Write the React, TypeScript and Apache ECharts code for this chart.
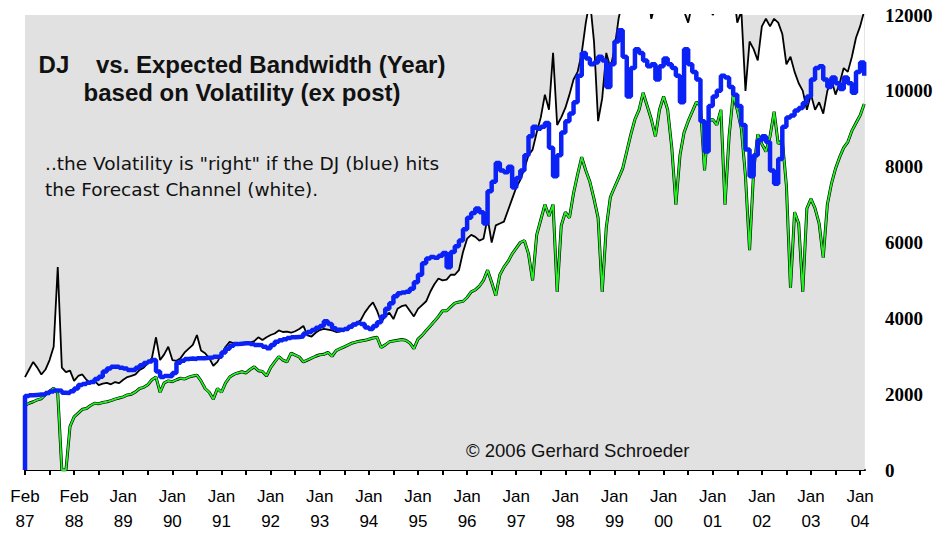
import React, { useEffect, useRef } from 'react';
import * as echarts from 'echarts';

// Month index 0 = Feb 87, one value per month (upper band, lower band, DJ)
const xLabels = ['Feb\n87', 'Feb\n88', 'Jan\n89', 'Jan\n90', 'Jan\n91', 'Jan\n92', 'Jan\n93', 'Jan\n94', 'Jan\n95', 'Jan\n96', 'Jan\n97', 'Jan\n98', 'Jan\n99', 'Jan\n00', 'Jan\n01', 'Jan\n02', 'Jan\n03', 'Jan\n04'];
const labelMonths = [0, 12, 24, 36, 48, 60, 72, 84, 96, 108, 120, 132, 144, 156, 168, 180, 192, 204];
const tickMonths = [0, 6, 12, 18, 24, 30, 36, 42, 48, 54, 60, 66, 72, 78, 84, 90, 96, 102, 108, 114, 120, 126, 132, 138, 144, 150, 156, 162, 168, 174, 180, 186, 192, 198, 204];

const upperBand = [
  2450, 2650, 2850, 2700, 2520, 2650, 2900, 3250, 5350, 2700, 2580, 2620,
  2350, 2480, 2520, 2380, 2300, 2350, 2240, 2280, 2300, 2260, 2320, 2290,
  2380, 2450, 2480, 2520, 2640, 2700, 2820, 2950, 3500, 2900, 3050, 3250,
  2900, 2880, 2950, 3100, 3200, 3300, 3560, 3150, 3080, 2950, 2750, 2850,
  3050, 3250, 3380, 3340, 3300, 3330, 3320, 3360, 3400, 3500, 3430, 3500,
  3560, 3600, 3680, 3640, 3650, 3620, 3660, 3720, 3800, 3550, 3520, 3620,
  3690, 3720, 3700, 3680, 3640, 3650, 3720, 3760, 3850, 3880, 3950, 4150,
  4300, 4420, 4200, 3900, 4050, 4150, 3980, 4250, 4320, 4350, 4200, 4050,
  4250, 4350, 4450, 4700, 4900, 5050, 5000, 5020, 5150, 5150, 5270, 5750,
  6100, 6200, 6150, 6050, 6100, 6650, 6000, 6450, 6500, 6550, 6850, 7150,
  7450, 7650, 7950, 8300, 8450, 8900, 9300, 9900, 9500, 11000, 9100, 9300,
  9550, 9900, 10300, 10500, 11000, 11800, 12400, 11300, 9200, 9800, 11000, 10600,
  11100, 11900, 12400, 12900, 13100, 12600, 12900, 13200, 12700, 11900, 12300, 12800,
  13000, 12600, 13200, 12700, 12400, 12100, 11800, 12300, 12800, 12500, 12900, 12400,
  12000, 12200, 12600, 13000, 12400, 12700, 11800, 12100, 10000, 11300, 11100, 10800,
  11700, 11900, 11700, 11900, 11800, 11500, 10700, 10900, 10500, 10200, 10000, 9500,
  9900, 9500, 9700, 9400, 10000, 10300, 9900, 10200, 10600, 10500, 10900, 11400,
  11700, 12100,
];

const lowerBand = [
  1700, 1760, 1800, 1850, 1880, 1990, 2080, 2160, 2020, 0, 0, 1150,
  1400, 1500, 1600, 1620, 1700, 1760, 1750, 1780, 1800, 1830, 1870, 1900,
  1930, 1980, 2000, 2060, 2150, 2180, 2250, 2380, 2450, 2050, 2300, 2350,
  2330, 2380, 2420, 2400, 2450, 2480, 2500, 2350, 2150, 2050, 1870, 2150,
  2050, 2300, 2450, 2520, 2560, 2590, 2560, 2650, 2720, 2620, 2600, 2480,
  2700, 2850, 2990, 2900, 2850, 3080, 3030, 2980, 2850, 2900, 2950, 3000,
  3040, 3050, 3100, 3000, 3150, 3200, 3250, 3300, 3350, 3380, 3400, 3420,
  3450, 3480, 3500, 3230, 3300, 3380, 3400, 3420, 3440, 3420, 3350, 3200,
  3450, 3550, 3680, 3800, 3920, 4050, 4200, 4200, 4300, 4400, 4430, 4450,
  4550, 4700, 4750, 4850, 5000, 5270, 4950, 4600, 5150, 5350, 5500, 5700,
  5850, 6000, 6050, 5700, 5000, 6200, 6600, 7000, 6700, 7000, 4700, 6450,
  6800, 6650, 7300, 7800, 8250, 7900, 7600, 7150, 6650, 4700, 6400, 7200,
  7450, 7700, 7950, 8400, 8850, 9250, 9500, 9950, 9600, 9250, 8800, 9500,
  9850, 9500, 8500, 7000, 8300, 8900, 9200, 9450, 9700, 9600, 7900, 9200,
  9250, 9100, 9500, 7000, 8800, 9900, 9500, 9000, 7750, 5800, 7900, 8850,
  8600, 8400, 8800, 9450, 8600, 8700, 7500, 4800, 6800, 6500, 4700, 6900,
  7150, 6900, 6500, 5600, 7000, 7550, 7950, 8250, 8500, 8650, 8950, 9150,
  9350, 9650,
];

const djStart = 0;
const djValues = [
  1950, 1970, 1980, 1990, 1990, 2030, 2070, 2100, 2090, 2040, 2030, 2080,
  2150, 2240, 2270, 2300, 2320, 2400, 2460, 2600, 2680, 2720, 2720, 2700,
  2680, 2640, 2640, 2700, 2760, 2820, 2860, 2900, 2600, 2450, 2480, 2470,
  2560, 2830, 2880, 2930, 2940, 2930, 2950, 2950, 2960, 2970, 2990, 2990,
  3100, 3200, 3280, 3320, 3330, 3340, 3340, 3320, 3300, 3290, 3250, 3210,
  3300, 3380, 3420, 3450, 3480, 3500, 3510, 3520, 3600, 3640, 3690, 3750,
  3800, 3920, 3850, 3740, 3700, 3690, 3720, 3780, 3840, 3880, 3850, 3760,
  3720, 3800, 3900, 4050, 4250, 4400, 4580, 4660, 4680, 4700, 4780, 4950,
  5150, 5450, 5580, 5620, 5600, 5650, 5720, 5350, 5750, 5900, 6050, 6350,
  6650, 6780, 6900, 6800, 6500, 7350, 7600, 8100, 7900, 7850, 8000, 7450,
  7700, 7900, 8300, 8800, 9050, 9000, 9050, 9150, 8500, 7750, 8300, 8900,
  9200, 9400, 9700, 10400, 11000, 10850, 10700, 10750, 10900, 10800, 10100, 10700,
  11300, 11600, 10900, 9850, 10600, 11100, 11000, 10800, 10650, 10700, 10300, 10650,
  10850, 10700, 10600, 10400, 9700, 11100, 10700, 10500, 10300, 9200, 8400, 9600,
  9850, 10000, 10400, 10350, 10100, 9900, 9600, 9100, 8450, 7750, 8300, 8700,
  8800, 8650, 7900, 7550, 8200, 9050, 9300, 9350, 9480, 9550, 9680, 9850,
  10300, 10600, 10650, 10300, 10100, 10350, 10200, 10050, 10350, 10200, 9950, 10500,
  10750, 10400,
];

const titleLine1 = 'DJ\u00a0\u00a0\u00a0 vs. Expected Bandwidth (Year)';
const titleLine2 = 'based on Volatility (ex post)';
const noteLine1 = '..the Volatility is "right" if the DJ (blue) hits';
const noteLine2 = 'the Forecast Channel (white).';
const copyright = '\u00a9 2006 Gerhard Schroeder';

const BG = '#e1e1e1';

export default function App() {
  const ref = useRef<HTMLDivElement>(null);

  useEffect(() => {
    if (!ref.current) return;
    const chart = echarts.init(ref.current, undefined, { renderer: 'svg' });
    const upperPairs = upperBand.map((v, i) => [i, v]);
    const lowerPairs = lowerBand.map((v, i) => [i, v]);
    const djPairs = [[0, djStart], ...djValues.map((v, i) => [i, v])];

    const option: any = {
      animation: false,
      backgroundColor: '#ffffff',
      grid: { left: 25, right: 80, top: 15, bottom: 66, show: true, backgroundColor: BG, borderWidth: 0 },
      xAxis: {
        type: 'value',
        min: 0,
        max: 205.2,
        axisLine: { show: true, onZero: false, lineStyle: { color: '#000', width: 2 } },
        axisTick: { show: true, customValues: tickMonths, length: 5, lineStyle: { color: '#000', width: 2 } },
        axisLabel: {
          customValues: labelMonths,
          formatter: (v: number) => xLabels[Math.round(v / 12)] ?? '',
          color: '#000',
          fontFamily: 'Liberation Sans',
          fontSize: 17,
          lineHeight: 25,
          margin: 14,
        },
        splitLine: { show: false },
      },
      yAxis: {
        type: 'value',
        position: 'right',
        min: 0,
        max: 12000,
        interval: 2000,
        axisLine: { show: false },
        axisTick: { show: false },
        splitLine: { show: false },
        axisLabel: {
          color: '#000',
          fontFamily: 'Liberation Serif',
          fontWeight: 'bold',
          fontSize: 19,
          margin: 20,
          formatter: (v: number) => String(v),
        },
      },
      series: [
        {
          type: 'line', data: upperPairs, symbol: 'none', silent: true, z: 1,
          lineStyle: { width: 0, opacity: 0 }, areaStyle: { color: '#ffffff', opacity: 1 },
        },
        {
          type: 'line', data: lowerPairs, symbol: 'none', silent: true, z: 1,
          lineStyle: { width: 0, opacity: 0 }, areaStyle: { color: BG, opacity: 1 },
        },
        {
          type: 'line', data: upperPairs, symbol: 'none', silent: true, z: 2,
          lineStyle: { color: '#000', width: 1.8 },
        },
        {
          type: 'line', data: lowerPairs, symbol: 'none', silent: true, z: 2,
          lineStyle: { color: '#000', width: 3 },
        },
        {
          type: 'line', data: lowerPairs, symbol: 'none', silent: true, z: 2,
          lineStyle: { color: '#22f022', width: 1.8 },
        },
        {
          type: 'line', data: djPairs, symbol: 'none', silent: true, step: 'end', clip: false, z: 3,
          lineStyle: { color: '#0a22f5', width: 4.5 },
        },
      ],
      graphic: [
        { type: 'text', z: 100, x: 242, y: 64, style: { text: titleLine1, fill: '#111', fontSize: 24, fontWeight: 'bold', fontFamily: 'Liberation Sans', textAlign: 'center', textVerticalAlign: 'middle' } },
        { type: 'text', z: 100, x: 242, y: 92, style: { text: titleLine2, fill: '#111', fontSize: 24, fontWeight: 'bold', fontFamily: 'Liberation Sans', textAlign: 'center', textVerticalAlign: 'middle' } },
        { type: 'text', z: 100, x: 45, y: 163, style: { text: noteLine1, fill: '#111', fontSize: 18.5, fontFamily: 'DejaVu Sans', textAlign: 'left', textVerticalAlign: 'middle' } },
        { type: 'text', z: 100, x: 45, y: 189, style: { text: noteLine2, fill: '#111', fontSize: 18.5, fontFamily: 'DejaVu Sans', textAlign: 'left', textVerticalAlign: 'middle' } },
        { type: 'text', z: 100, x: 466, y: 450, style: { text: copyright, fill: '#111', fontSize: 18.5, fontFamily: 'Liberation Sans', textAlign: 'left', textVerticalAlign: 'middle' } },
      ],
    };
    chart.setOption(option);
    return () => chart.dispose();
  }, []);

  return <div ref={ref} style={{ position: 'fixed', left: 0, top: 0, width: 945, height: 536 }} />;
}
